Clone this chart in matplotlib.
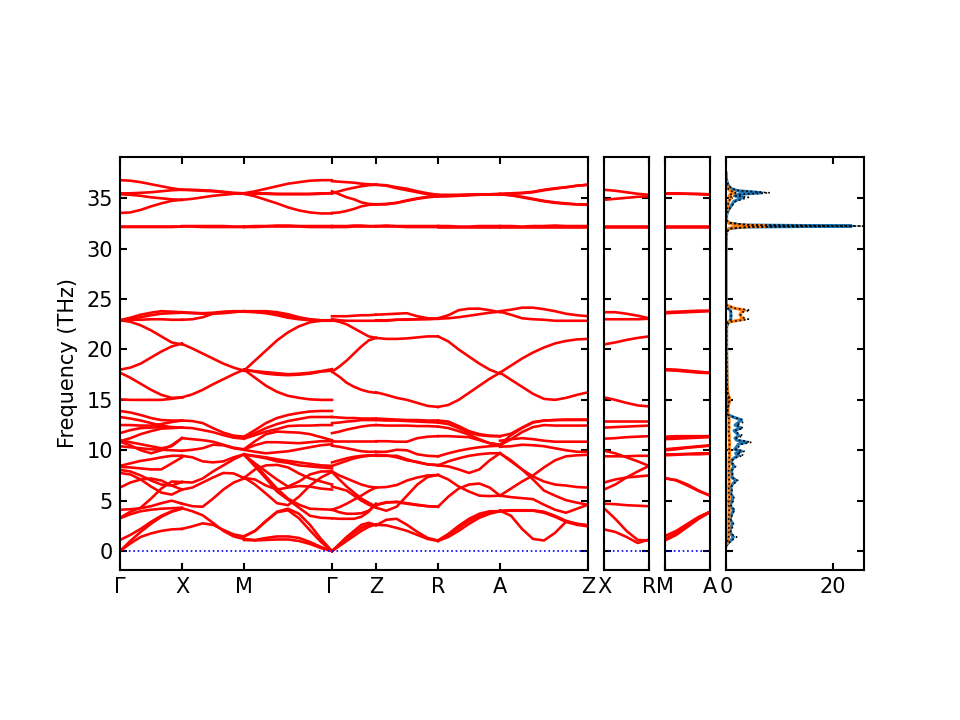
import matplotlib
matplotlib.use('Agg')
import matplotlib.pyplot as plt
import numpy as np

# path nodes for the main panel
path_nodes = [0.0, 0.62, 1.24, 2.12, 2.56, 3.18, 3.80, 4.68]
path_labels = ['Γ', 'X', 'M', 'Γ', 'Z', 'R', 'A', 'Z']

gamma_x_bands = [
    [0, .75, 1.4, 1.75, 2.0, 2.15, 2.2],
    [0, 1.0, 1.9, 2.7, 3.4, 3.9, 4.2],
    [1.1, 1.6, 2.2, 2.9, 3.5, 3.95, 4.25],
    [3.25, 3.65, 3.95, 4.1, 4.2, 4.25, 4.3],
    [4.1, 4.15, 4.25, 4.45, 4.75, 5.0, 4.7],
    [3.3, 3.9, 4.3, 5.2, 6.2, 6.9, 6.85],
    [6.3, 6.8, 7.1, 7.2, 7.0, 6.5, 6.1],
    [7.75, 7.6, 7.1, 6.4, 5.8, 5.6, 6.1],
    [8.05, 7.9, 7.5, 7.0, 6.6, 6.5, 6.85],
    [8.35, 8.3, 8.2, 8.1, 8.1, 8.7, 9.3],
    [8.45, 8.7, 8.95, 9.1, 9.3, 9.45, 9.45],
    [10.4, 10.3, 10.2, 10.1, 10.05, 10.0, 9.95],
    [10.85, 10.5, 10.0, 9.7, 10.0, 10.5, 11.2],
    [11.0, 10.8, 10.6, 10.4, 10.2, 10.4, 11.2],
    [10.9, 11.2, 11.6, 11.9, 12.15, 12.2, 12.25],
    [11.7, 12.0, 12.2, 12.25, 12.3, 12.25, 12.25],
    [12.5, 12.5, 12.45, 12.45, 12.6, 12.8, 12.95],
    [13.3, 13.15, 12.95, 12.7, 12.45, 12.3, 12.25],
    [13.9, 13.75, 13.5, 13.2, 13.0, 12.95, 12.95],
    [15.05, 15.0, 15.0, 15.0, 15.0, 15.1, 15.25],
    [17.7, 17.2, 16.6, 16.0, 15.5, 15.2, 15.25],
    [18.0, 18.2, 18.6, 19.2, 19.8, 20.3, 20.6],
    [22.9, 22.75, 22.4, 21.9, 21.3, 20.7, 20.5],
    [22.9, 22.95, 22.95, 23.0, 23.0, 22.95, 22.95],
    [22.9, 23.15, 23.45, 23.65, 23.8, 23.75, 23.7],
    [22.9, 23.05, 23.2, 23.4, 23.55, 23.6, 23.65],
    [32.25, 32.25, 32.25, 32.25, 32.25, 32.25, 32.25],
    [32.15, 32.15, 32.15, 32.15, 32.15, 32.15, 32.2],
    [33.55, 33.6, 33.85, 34.2, 34.5, 34.75, 34.85],
    [35.4, 35.35, 35.25, 35.1, 35.0, 34.9, 34.85],
    [35.5, 35.5, 35.55, 35.6, 35.7, 35.8, 35.85],
    [36.8, 36.75, 36.6, 36.4, 36.2, 36.0, 35.85],
]

x_m_bands = [
    [2.2, 2.45, 2.75, 2.6, 2.1, 1.65, 1.45],
    [4.25, 3.95, 3.55, 2.8, 2.0, 1.45, 1.2],
    [4.7, 4.45, 4.4, 5.2, 6.1, 6.8, 7.2],
    [6.1, 6.3, 6.8, 7.3, 7.75, 7.7, 7.25],
    [6.85, 6.8, 7.2, 7.9, 8.5, 9.1, 9.6],
    [9.45, 9.3, 8.9, 8.8, 8.9, 9.3, 9.6],
    [9.95, 10.05, 10.2, 10.55, 10.5, 10.2, 10.05],
    [11.2, 11.1, 11.0, 10.85, 10.55, 10.25, 10.1],
    [12.25, 12.2, 12.0, 11.8, 11.5, 11.25, 11.15],
    [12.95, 12.9, 12.7, 12.2, 11.75, 11.45, 11.35],
    [15.25, 15.55, 16.0, 16.55, 17.05, 17.55, 18.0],
    [20.55, 20.1, 19.6, 19.1, 18.6, 18.2, 17.9],
    [22.95, 23.0, 23.2, 23.55, 23.7, 23.75, 23.75],
    [23.7, 23.65, 23.6, 23.65, 23.75, 23.8, 23.8],
    [23.65, 23.6, 23.55, 23.55, 23.6, 23.7, 23.8],
    [32.25, 32.25, 32.25, 32.25, 32.25, 32.2, 32.2],
    [32.2, 32.2, 32.15, 32.15, 32.15, 32.15, 32.15],
    [34.85, 34.95, 35.1, 35.25, 35.35, 35.45, 35.5],
    [35.85, 35.8, 35.75, 35.7, 35.6, 35.5, 35.45],
    [35.85, 35.85, 35.8, 35.75, 35.65, 35.55, 35.5],
]

m_gamma_bands = [
    [1.1, 1.05, 1.1, 1.15, 1.15, 1.0, 0.7, 0.3, 0],
    [1.2, 1.1, 1.3, 1.45, 1.45, 1.3, 0.9, 0.4, 0],
    [1.45, 2.0, 3.0, 3.9, 4.2, 3.7, 2.6, 1.2, 0],
    [1.45, 2.0, 2.95, 3.85, 4.05, 3.25, 2.05, 0.9, 0],
    [7.3, 6.6, 5.7, 4.75, 4.55, 5.4, 6.5, 7.3, 7.85],
    [9.55, 8.7, 7.9, 7.1, 6.4, 6.9, 7.6, 7.9, 7.9],
    [9.55, 8.6, 7.4, 6.2, 5.2, 4.6, 4.2, 4.15, 4.1],
    [9.55, 8.4, 7.2, 5.9, 5.1, 4.3, 3.5, 3.3, 3.25],
    [7.25, 8.1, 8.5, 8.55, 8.3, 7.7, 7.2, 6.9, 6.6],
    [7.25, 7.1, 6.5, 6.1, 6.3, 6.45, 6.4, 6.2, 6.1],
    [9.55, 9.4, 9.2, 8.9, 8.75, 8.5, 8.4, 8.3, 8.2],
    [9.6, 9.45, 9.3, 9.1, 8.95, 8.8, 8.65, 8.5, 8.45],
    [10.05, 9.85, 9.7, 9.8, 9.9, 10.1, 10.3, 10.5, 10.6],
    [10.1, 10.5, 10.8, 10.8, 10.75, 10.7, 10.8, 10.9, 10.9],
    [10.1, 10.9, 11.6, 11.85, 11.8, 11.75, 11.6, 11.3, 11.0],
    [11.15, 11.5, 11.85, 12.1, 12.4, 12.45, 12.45, 12.5, 12.5],
    [11.3, 11.7, 12.2, 12.6, 12.9, 13.1, 13.3, 13.3, 13.3],
    [11.35, 12.0, 12.7, 13.2, 13.5, 13.7, 13.85, 13.9, 13.9],
    [18.0, 17.2, 16.4, 15.8, 15.4, 15.2, 15.05, 15.0, 15.0],
    [18.0, 17.8, 17.6, 17.5, 17.45, 17.5, 17.6, 17.8, 17.9],
    [18.0, 17.85, 17.75, 17.65, 17.55, 17.6, 17.7, 17.85, 18.05],
    [17.9, 18.9, 19.9, 20.9, 21.7, 22.3, 22.7, 22.85, 22.9],
    [23.75, 23.75, 23.7, 23.6, 23.3, 23.1, 22.95, 22.9, 22.9],
    [23.75, 23.7, 23.6, 23.4, 23.15, 23.0, 22.9, 22.85, 22.85],
    [23.8, 23.8, 23.8, 23.7, 23.5, 23.2, 23.0, 22.9, 22.9],
    [32.2, 32.25, 32.25, 32.3, 32.3, 32.25, 32.25, 32.25, 32.25],
    [32.15, 32.15, 32.2, 32.2, 32.2, 32.2, 32.15, 32.15, 32.15],
    [35.45, 35.2, 34.85, 34.5, 34.1, 33.8, 33.6, 33.5, 33.5],
    [35.45, 35.45, 35.45, 35.4, 35.4, 35.4, 35.4, 35.45, 35.5],
    [35.5, 35.5, 35.5, 35.45, 35.45, 35.45, 35.45, 35.5, 35.5],
    [35.5, 35.7, 35.95, 36.2, 36.45, 36.6, 36.75, 36.8, 36.8],
]

gamma_z_bands = [
    [0, .7, 1.4, 2.0, 2.6, 2.8, 2.6],
    [0, .6, 1.2, 1.8, 2.3, 2.6, 2.6],
    [0, .5, 1.0, 1.5, 2.0, 2.4, 2.65],
    [3.25, 3.2, 3.2, 3.2, 3.4, 3.9, 4.7],
    [4.1, 3.85, 3.7, 3.7, 3.75, 4.0, 4.65],
    [4.1, 4.35, 4.7, 5.1, 5.5, 5.95, 6.3],
    [6.4, 6.2, 6.0, 5.5, 5.0, 4.6, 4.3],
    [7.85, 7.1, 6.4, 5.8, 5.2, 4.8, 4.4],
    [7.9, 7.5, 7.2, 6.9, 6.6, 6.4, 6.3],
    [8.8, 9.0, 9.2, 9.35, 9.45, 9.5, 9.5],
    [8.45, 8.7, 8.95, 9.2, 9.35, 9.45, 9.5],
    [10.45, 10.35, 10.2, 10.05, 9.9, 9.85, 9.85],
    [10.9, 10.9, 10.9, 10.9, 10.9, 10.9, 10.9],
    [11.7, 11.85, 12.05, 12.2, 12.35, 12.45, 12.5],
    [12.7, 12.75, 12.85, 12.9, 13.0, 13.0, 13.0],
    [13.3, 13.25, 13.2, 13.2, 13.15, 13.15, 13.15],
    [17.8, 17.3, 16.7, 16.3, 16.0, 15.8, 15.7],
    [17.8, 18.3, 18.9, 19.6, 20.3, 20.9, 21.15],
    [22.9, 22.75, 22.5, 22.1, 21.7, 21.3, 21.15],
    [23.0, 22.9, 22.85, 22.85, 22.85, 22.85, 22.85],
    [23.3, 23.3, 23.3, 23.35, 23.4, 23.4, 23.45],
    [32.25, 32.25, 32.25, 32.3, 32.3, 32.25, 32.25],
    [32.15, 32.15, 32.15, 32.2, 32.2, 32.2, 32.2],
    [33.55, 33.6, 33.75, 33.95, 34.2, 34.35, 34.4],
    [35.7, 35.4, 35.1, 34.9, 34.6, 34.45, 34.4],
    [35.5, 35.7, 35.9, 36.05, 36.2, 36.3, 36.35],
    [36.7, 36.65, 36.6, 36.55, 36.45, 36.4, 36.35],
]

z_r_bands = [
    [2.55, 3.1, 3.2, 2.6, 1.9, 1.3, 1.05],
    [2.6, 2.55, 2.3, 2.0, 1.6, 1.2, 1.0],
    [4.3, 4.0, 4.4, 5.5, 6.6, 7.35, 7.55],
    [4.6, 4.85, 4.85, 4.7, 4.55, 4.45, 4.4],
    [4.55, 4.8, 4.9, 4.75, 4.6, 4.45, 4.4],
    [6.3, 6.35, 6.55, 7.0, 7.3, 7.5, 7.55],
    [9.45, 9.45, 9.45, 9.1, 8.8, 8.6, 8.5],
    [9.55, 9.5, 9.3, 9.0, 8.85, 8.6, 8.55],
    [9.85, 9.85, 10.05, 10.0, 9.6, 9.45, 9.4],
    [10.9, 10.9, 10.85, 10.85, 11.2, 11.35, 11.4],
    [12.5, 12.45, 12.45, 12.45, 12.4, 12.4, 12.35],
    [13.0, 12.95, 12.95, 12.9, 12.85, 12.8, 12.75],
    [13.15, 13.1, 13.05, 13.0, 13.0, 12.95, 12.95],
    [15.75, 15.5, 15.2, 15.0, 14.7, 14.4, 14.3],
    [21.15, 21.05, 21.05, 21.1, 21.2, 21.3, 21.3],
    [22.85, 22.85, 22.95, 22.95, 23.0, 23.0, 23.05],
    [22.9, 22.9, 22.95, 23.0, 23.0, 23.05, 23.05],
    [23.45, 23.5, 23.55, 23.6, 23.3, 23.1, 23.05],
    [32.25, 32.3, 32.25, 32.25, 32.25, 32.25, 32.25],
    [32.2, 32.2, 32.2, 32.15, 32.15, 32.15, 32.15],
    [34.4, 34.4, 34.55, 34.8, 35.0, 35.15, 35.2],
    [34.4, 34.45, 34.55, 34.75, 34.95, 35.1, 35.2],
    [36.35, 36.25, 36.0, 35.8, 35.6, 35.4, 35.3],
    [36.35, 36.3, 36.1, 35.95, 35.7, 35.5, 35.35],
]

r_a_bands = [
    [1.05, 1.6, 2.3, 3.0, 3.5, 3.8, 4.0],
    [1.0, 1.4, 2.0, 2.7, 3.3, 3.7, 3.95],
    [1.05, 1.7, 2.5, 3.2, 3.7, 3.95, 3.95],
    [4.4, 5.4, 6.2, 6.6, 6.7, 6.3, 5.5],
    [7.55, 7.1, 6.4, 5.9, 5.5, 5.45, 5.5],
    [8.5, 8.4, 8.1, 7.75, 8.1, 9.0, 9.7],
    [8.5, 8.9, 9.2, 9.45, 9.6, 9.7, 9.7],
    [9.4, 9.7, 9.95, 10.15, 10.3, 10.4, 10.45],
    [11.4, 11.4, 11.35, 11.3, 11.0, 10.7, 10.55],
    [12.35, 12.2, 11.9, 11.55, 11.1, 10.7, 10.55],
    [12.75, 12.6, 12.2, 11.75, 11.5, 11.4, 11.4],
    [12.95, 12.85, 12.4, 11.9, 11.6, 11.45, 11.4],
    [14.3, 14.5, 15.0, 15.7, 16.4, 17.1, 17.7],
    [21.3, 20.8, 20.0, 19.3, 18.6, 18.0, 17.6],
    [23.1, 23.4, 23.9, 24.05, 24.05, 23.9, 23.7],
    [23.05, 23.1, 23.2, 23.35, 23.5, 23.65, 23.75],
    [32.25, 32.25, 32.2, 32.2, 32.25, 32.25, 32.25],
    [32.15, 32.15, 32.15, 32.15, 32.15, 32.15, 32.15],
    [35.2, 35.2, 35.25, 35.3, 35.35, 35.4, 35.4],
    [35.2, 35.25, 35.3, 35.35, 35.4, 35.4, 35.45],
    [35.3, 35.3, 35.3, 35.35, 35.4, 35.4, 35.4],
    [35.35, 35.35, 35.35, 35.35, 35.4, 35.4, 35.4],
]

a_z_bands = [
    [4.0, 3.5, 2.2, 1.2, 1.05, 1.8, 2.9, 2.7, 2.55],
    [4.0, 4.05, 4.05, 4.05, 3.9, 3.5, 3.0, 2.7, 2.55],
    [3.95, 4.0, 4.0, 4.0, 3.8, 3.4, 2.9, 2.6, 2.45],
    [5.5, 5.35, 5.25, 5.15, 4.6, 4.1, 3.8, 4.2, 4.6],
    [5.5, 6.2, 6.9, 7.5, 8.3, 9.0, 9.4, 9.5, 9.55],
    [9.7, 8.9, 8.1, 7.4, 6.9, 6.6, 6.5, 6.35, 6.3],
    [9.7, 9.0, 8.1, 7.1, 6.0, 5.5, 5.05, 4.8, 4.6],
    [10.35, 10.4, 10.55, 10.5, 10.4, 10.2, 10.0, 9.85, 9.85],
    [10.95, 11.1, 11.2, 11.1, 10.95, 10.85, 10.85, 10.85, 10.85],
    [10.5, 11.1, 11.8, 12.3, 12.5, 12.45, 12.45, 12.45, 12.45],
    [10.55, 11.5, 12.2, 12.75, 12.95, 13.0, 13.05, 13.05, 13.05],
    [11.4, 11.65, 12.25, 12.8, 12.95, 13.0, 13.0, 13.0, 13.0],
    [17.7, 17.0, 16.3, 15.6, 15.1, 15.0, 15.2, 15.5, 15.75],
    [17.7, 18.4, 19.1, 19.7, 20.2, 20.6, 20.85, 21.0, 21.05],
    [23.75, 23.45, 23.1, 23.0, 22.95, 22.85, 22.85, 22.85, 22.85],
    [23.8, 23.95, 24.15, 24.15, 24.0, 23.8, 23.55, 23.4, 23.3],
    [32.25, 32.25, 32.2, 32.25, 32.25, 32.3, 32.25, 32.25, 32.25],
    [32.15, 32.15, 32.15, 32.15, 32.15, 32.15, 32.15, 32.15, 32.15],
    [35.4, 35.3, 35.1, 34.9, 34.7, 34.55, 34.45, 34.4, 34.4],
    [35.4, 35.3, 35.15, 34.95, 34.75, 34.6, 34.5, 34.4, 34.35],
    [35.45, 35.5, 35.55, 35.65, 35.85, 36.0, 36.1, 36.25, 36.35],
    [35.4, 35.45, 35.5, 35.6, 35.8, 35.95, 36.1, 36.25, 36.35],
]

x_r_bands = [
    [2.15, 1.9, 1.4, .8, 1.15],
    [4.25, 3.2, 2.0, 1.1, 1.05],
    [4.7, 4.65, 4.55, 4.5, 4.45],
    [6.1, 6.6, 7.3, 7.9, 8.45],
    [6.8, 7.1, 7.3, 7.4, 7.5],
    [9.4, 9.4, 9.4, 9.45, 9.45],
    [9.95, 9.7, 9.3, 8.9, 8.45],
    [11.15, 11.2, 11.3, 11.35, 11.4],
    [12.25, 12.3, 12.35, 12.4, 12.45],
    [12.95, 12.95, 12.95, 12.95, 12.95],
    [15.25, 15.0, 14.7, 14.45, 14.35],
    [20.5, 20.7, 20.95, 21.15, 21.3],
    [23.0, 23.0, 23.0, 23.0, 23.05],
    [23.7, 23.7, 23.55, 23.35, 23.1],
    [32.25, 32.25, 32.25, 32.25, 32.25],
    [32.15, 32.15, 32.15, 32.15, 32.15],
    [34.85, 34.95, 35.05, 35.15, 35.2],
    [35.85, 35.75, 35.6, 35.45, 35.35],
]

m_a_bands = [
    [1.05, 1.6, 2.4, 3.2, 3.85],
    [1.2, 1.8, 2.6, 3.3, 3.9],
    [1.5, 2.0, 2.7, 3.4, 3.9],
    [7.2, 7.05, 6.6, 6.0, 5.5],
    [7.25, 7.0, 6.5, 5.95, 5.5],
    [9.5, 9.55, 9.6, 9.6, 9.65],
    [9.6, 9.6, 9.65, 9.7, 9.7],
    [10.0, 10.1, 10.25, 10.35, 10.45],
    [10.1, 10.2, 10.3, 10.4, 10.5],
    [11.1, 11.15, 11.2, 11.25, 11.3],
    [11.25, 11.3, 11.35, 11.35, 11.4],
    [11.35, 11.4, 11.4, 11.4, 11.4],
    [17.95, 17.9, 17.8, 17.7, 17.65],
    [18.05, 18.0, 17.9, 17.8, 17.7],
    [23.6, 23.65, 23.7, 23.75, 23.8],
    [23.7, 23.75, 23.8, 23.85, 23.85],
    [32.25, 32.25, 32.25, 32.25, 32.25],
    [32.15, 32.15, 32.15, 32.15, 32.15],
    [35.45, 35.45, 35.45, 35.4, 35.35],
    [35.5, 35.5, 35.45, 35.45, 35.4],
]

# density of states
dos_freq = [0.5, 0.8, 1.1, 1.4, 1.7, 2.1, 2.4, 2.75, 3.1, 3.5, 3.8, 4.1, 4.4, 4.7, 5.0, 5.4, 5.7, 6.0, 6.4, 6.7,
            7.0, 7.3, 7.7, 8.0, 8.4, 8.7, 9.0, 9.3, 9.5, 9.7, 9.9, 10.1, 10.35, 10.6, 10.8, 11.0, 11.2, 11.45, 11.7, 11.95,
            12.2, 12.5, 12.75, 13.0, 13.25, 13.5, 13.9, 14.3, 14.7, 15.1, 15.6, 16.5, 18.0, 20.0, 21.5, 22.3, 22.7, 23.0, 23.2, 23.45,
            23.7, 23.9, 24.1, 24.4, 25.0, 30.0, 31.7, 32.0, 32.15, 32.25, 32.35, 32.55, 32.8, 33.3, 33.8, 34.2, 34.7, 35.1, 35.25, 35.4,
            35.55, 35.75, 35.95, 36.2, 36.5, 37.0, 37.5]
dos_total = [0, .4, 1.0, 1.4, .9, .75, .95, 1.2, .8, .9, 1.2, 1.4, .85, .9, 1.2, 1.25, .85, 1.0, .9, 1.3,
             1.9, 1.1, 1.1, 1.0, 1.5, 1.1, 1.0, 1.7, 2.4, 1.8, 2.9, 1.6, 2.0, 2.3, 3.9, 2.0, 1.7, 2.4, 2.0, 1.5,
             2.8, 1.7, 2.3, 2.9, 1.6, .4, .3, .35, .45, .5, .3, .2, .15, .1, .1, .1, .5, .9, .9, .9,
             .9, .8, .3, .05, 0, 0, .1, .6, 3.0, 23.5, 3.0, .6, .1, .1, .4, .9, 1.5, 3.2, 1.6, 2.4,
             6.7, 2.2, 1.0, .55, .25, .05, 0]
dos_partial = [0, .2, .4, .5, .5, .5, .55, .5, .5, .55, .55, .6, .55, .5, .55, .6, .5, .55, .5, .6,
               .6, .5, .55, .5, .6, .55, .55, .6, .7, .6, .7, .6, .6, .65, .7, .6, .6, .6, .55, .5,
               .6, .5, .55, .6, .5, .3, .3, .35, .6, .7, .35, .2, .15, .1, .1, .1, .2, 3.4, 2.9, 2.6,
               2.9, 3.5, 1.5, .1, 0, 0, .1, .5, 2.0, 7.6, 2.0, .5, .1, .05, .15, .3, .5, 1.0, .6, .8,
               1.6, .8, .4, .2, .1, 0, 0]
dotted_total = [0, .5, 1.2, 2.0, 1.0, .8, 1.3, 1.4, .9, 1.1, 1.3, 1.7, .9, 1.0, 1.4, 1.5, .9, 1.1, 1.0, 1.5,
                2.2, 1.2, 1.2, 1.1, 1.8, 1.2, 1.1, 2.0, 3.3, 2.0, 3.4, 1.8, 2.4, 2.8, 4.8, 2.4, 1.9, 3.2, 2.2, 1.7,
                3.2, 1.9, 3.1, 3.2, 1.7, .4, .3, .35, .5, .5, .3, .2, .15, .1, .1, .1, .5, 1.0, 1.0, 1.0,
                1.0, .9, .3, .05, 0, 0, .1, .8, 4.0, 25.7, 4.0, .8, .1, .1, .4, 1.0, 1.8, 4.2, 1.8, 2.8,
                8.2, 2.5, 1.1, .6, .3, .05, 0]
dotted_partial = [0, .2, .4, .5, .5, .5, .55, .5, .5, .55, .55, .6, .55, .5, .55, .6, .5, .55, .5, .6,
                  .6, .5, .55, .5, .6, .55, .55, .6, .7, .6, .7, .6, .6, .65, .7, .6, .6, .6, .55, .5,
                  .6, .5, .55, .6, .5, .3, .3, .35, .6, .7, .35, .2, .15, .1, .1, .1, .2, 4.2, 3.0, 2.7,
                  3.0, 4.5, 1.6, .1, 0, 0, .1, .8, 4.5, 19.5, 4.5, .8, .1, .05, .15, .3, .5, 1.1, .6, .9,
                  1.8, .9, .4, .2, .1, 0, 0]

dos_ticks = [0, 20]
freq_ticks = [0, 5, 10, 15, 20, 25, 30, 35]
y_lims = (-1.88, 39.1)


def px_axes(fig, left, right, top=157, bottom=570):
    # axes box given in pixels of the 960x720 figure
    return fig.add_axes([left / 960, 1 - bottom / 720, (right - left) / 960, (bottom - top) / 720])


def style_axes(ax, xticks, xlabels):
    ax.set_ylim(*y_lims)
    ax.set_yticks(freq_ticks)
    ax.set_xticks(xticks)
    ax.set_xticklabels(xlabels)
    ax.tick_params(direction='in', top=True, right=True, labelleft=False, length=3.5, width=1)
    for spine in ax.spines.values():
        spine.set_linewidth(1)


def draw_bands(ax, start, end, bands):
    for band in bands:
        k = np.linspace(start, end, len(band))
        ax.plot(k, band, color='red', linewidth=1.25)


fig = plt.figure(figsize=(6.4, 4.8), dpi=150)

ax_main = px_axes(fig, 120, 588)
main_segments = [gamma_x_bands, x_m_bands, m_gamma_bands, gamma_z_bands, z_r_bands, r_a_bands, a_z_bands]
for i, bands in enumerate(main_segments):
    draw_bands(ax_main, path_nodes[i], path_nodes[i + 1], bands)
ax_main.axhline(0, color='blue', linestyle=':', linewidth=0.8)
ax_main.set_xlim(path_nodes[0], path_nodes[-1])
style_axes(ax_main, path_nodes, path_labels)
ax_main.tick_params(labelleft=True)
ax_main.set_ylabel('Frequency (THz)')

ax_xr = px_axes(fig, 604, 649)
draw_bands(ax_xr, 0, 1, x_r_bands)
ax_xr.axhline(0, color='blue', linestyle=':', linewidth=0.8)
ax_xr.set_xlim(0, 1)
style_axes(ax_xr, [0, 1], ['X', 'R'])

ax_ma = px_axes(fig, 665, 710)
draw_bands(ax_ma, 0, 1, m_a_bands)
ax_ma.axhline(0, color='blue', linestyle=':', linewidth=0.8)
ax_ma.set_xlim(0, 1)
style_axes(ax_ma, [0, 1], ['M', 'A'])

ax_dos = px_axes(fig, 726, 864)
ax_dos.plot(dos_total, dos_freq, color='tab:blue', linewidth=1.5)
ax_dos.plot(dos_partial, dos_freq, color='tab:orange', linewidth=1.5)
ax_dos.plot(dotted_total, dos_freq, color='black', linestyle=':', linewidth=0.8)
ax_dos.plot(dotted_partial, dos_freq, color='black', linestyle=':', linewidth=0.8)
ax_dos.set_xlim(0, 25.8)
style_axes(ax_dos, dos_ticks, ['0', '20'])

fig.savefig('out.png', dpi=150)
plt.close(fig)
